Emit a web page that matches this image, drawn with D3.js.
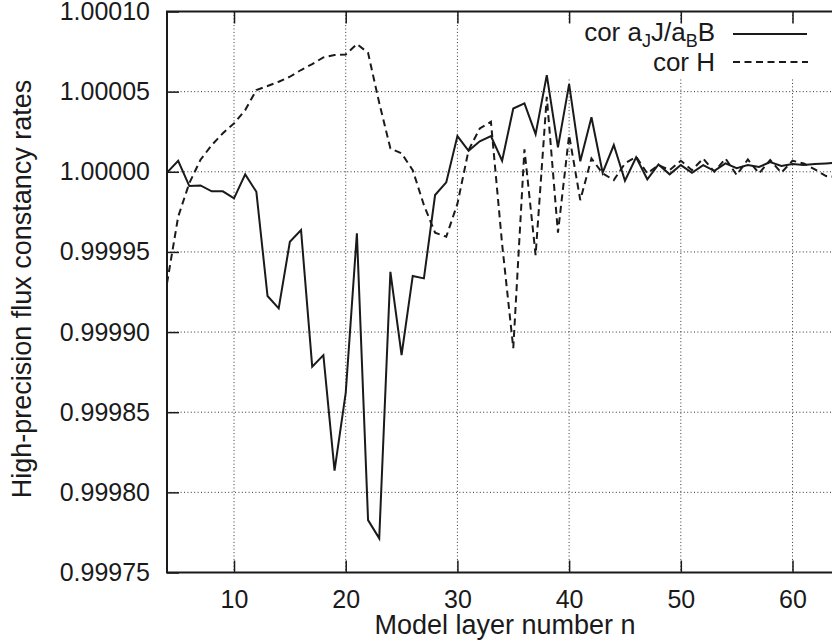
<!DOCTYPE html>
<html><head><meta charset="utf-8">
<script src="https://cdn.jsdelivr.net/npm/d3@7"></script>
<style>body{margin:0;background:#fff}svg{display:block}text{font-family:"Liberation Sans",Arial,sans-serif;fill:#1a1a1a}</style>
</head><body><svg id="c" width="832" height="643"></svg>
<script>
const layers = d3.range(4, 65);
const corJB = [0.9999995,1.0000069,0.9999911,0.9999915,0.9999878,0.9999878,0.9999834,0.9999984,0.9999875,0.9999225,
0.9999148,0.9999563,0.9999636,0.9998784,0.9998856,0.9998135,0.9998620,0.9999616,0.9997827,0.9997713,
0.9999376,0.9998857,0.9999350,0.9999335,0.9999855,0.9999934,1.0000223,1.0000131,1.0000190,1.0000223,
1.0000069,1.0000395,1.0000427,1.0000235,1.0000603,1.0000152,1.0000547,1.0000065,1.0000340,0.9999994,
1.0000167,0.9999944,1.0000090,0.9999953,1.0000046,0.9999984,1.0000042,0.9999994,1.0000042,1.0000006,
1.0000052,1.0000023,1.0000042,1.0000030,1.0000060,1.0000036,1.0000048,1.0000042,1.0000048,1.0000052,1.0000056];
const corH = [0.9999304,0.9999720,0.9999930,1.0000075,1.0000166,1.0000240,1.0000302,1.0000385,1.0000510,1.0000535,
1.0000562,1.0000593,1.0000635,1.0000672,1.0000714,1.0000728,1.0000732,1.0000797,1.0000742,1.0000430,
1.0000146,1.0000115,1.0000010,0.9999792,0.9999620,0.9999595,0.9999800,1.0000135,1.0000270,1.0000312,
0.9999550,0.9998900,1.0000140,0.9999480,1.0000468,0.9999620,1.0000229,0.9999823,1.0000083,0.9999990,
0.9999948,1.0000052,1.0000094,0.9999990,1.0000042,1.0000010,1.0000069,1.0000010,1.0000083,1.0000000,
1.0000083,0.9999980,1.0000077,0.9999990,1.0000073,0.9999994,1.0000069,1.0000052,1.0000015,0.9999973,0.9999967];
const xTicks = [10,20,30,40,50,60];
const yTicks = [0.99975,0.99980,0.99985,0.99990,0.99995,1.00000,1.00005,1.00010];

const L=167, R=837.2, T=11.5, B=572.5;
const svg = d3.select("#c");
const x = d3.scaleLinear().domain([4,64]).range([L,R]);
const y = d3.scaleLinear().domain([0.99975,1.00010]).range([B,T]);
const ink = "#1a1a1a";
const FF = "Liberation Sans, Arial, sans-serif";

// grid
const g = svg.append("g");
g.selectAll("line.gx").data(xTicks).join("line")
  .attr("x1",d=>x(d)).attr("x2",d=>x(d)).attr("y1",T).attr("y2",B)
  .attr("stroke","#333").attr("stroke-width",1).attr("stroke-dasharray","1,2.4");
g.selectAll("line.gy").data(yTicks.slice(1,-1)).join("line")
  .attr("x1",L).attr("x2",R).attr("y1",d=>y(d)).attr("y2",d=>y(d))
  .attr("stroke","#333").attr("stroke-width",1).attr("stroke-dasharray","1,2.4");

// legend mask
svg.append("rect").attr("x",566).attr("y",T+11).attr("width",300).attr("height",56).attr("fill","#fff");

// axes ticks (inward, mirrored)
const tk = 12;
svg.append("g").attr("transform",`translate(0,${B})`)
  .call(d3.axisBottom(x).tickValues(xTicks).tickSize(-tk).tickFormat(d3.format("d")).tickPadding(18))
  .call(a=>{a.select(".domain").remove();a.selectAll("line").attr("stroke",ink).attr("stroke-width",1.5);
    a.selectAll("text").attr("font-size",25).attr("fill",ink).attr("font-family",FF);});
svg.append("g").attr("transform",`translate(0,${T})`)
  .call(d3.axisTop(x).tickValues(xTicks).tickSize(-tk).tickFormat(""))
  .call(a=>{a.select(".domain").remove();a.selectAll("line").attr("stroke",ink).attr("stroke-width",1.5);});
svg.append("g").attr("transform",`translate(${L},0)`)
  .call(d3.axisLeft(y).tickValues(yTicks).tickSize(-tk).tickFormat(d3.format(".5f")).tickPadding(17))
  .call(a=>{a.select(".domain").remove();a.selectAll("line").attr("stroke",ink).attr("stroke-width",1.5);
    a.selectAll("text").attr("font-size",25).attr("fill",ink).attr("font-family",FF);});

// data
const line = d3.line().x((d,i)=>x(layers[i])).y(d=>y(d));
svg.append("path").datum(corH).attr("d",line).attr("fill","none").attr("stroke",ink)
  .attr("stroke-width",2).attr("stroke-dasharray","7,4.5");
svg.append("path").datum(corJB).attr("d",line).attr("fill","none").attr("stroke",ink)
  .attr("stroke-width",2);

// frame
svg.append("path").attr("d",`M${R},${T}H${L}V${B}H${R}`).attr("fill","none").attr("stroke",ink).attr("stroke-width",2);

// legend
const t1 = svg.append("text").attr("x",715).attr("y",41).attr("text-anchor","end").attr("font-size",26);
t1.append("tspan").text("cor a");
t1.append("tspan").attr("dy",6).attr("font-size",18).text("J");
t1.append("tspan").attr("dy",-6).text("J/a");
t1.append("tspan").attr("dy",6).attr("font-size",18).text("B");
t1.append("tspan").attr("dy",-6).text("B");
svg.append("line").attr("x1",733).attr("x2",807).attr("y1",34).attr("y2",34).attr("stroke",ink).attr("stroke-width",2);
svg.append("text").attr("x",715).attr("y",71).attr("text-anchor","end").attr("font-size",26).text("cor H");
svg.append("line").attr("x1",733).attr("x2",808).attr("y1",62).attr("y2",62).attr("stroke",ink).attr("stroke-width",2).attr("stroke-dasharray","7,4.5");

// titles
svg.append("text").attr("x",505).attr("y",634).attr("text-anchor","middle").attr("font-size",27).text("Model layer number n");
svg.append("text").attr("transform","translate(31,289) rotate(-90)").attr("text-anchor","middle").attr("font-size",27).text("High-precision flux constancy rates");
</script></body></html>
